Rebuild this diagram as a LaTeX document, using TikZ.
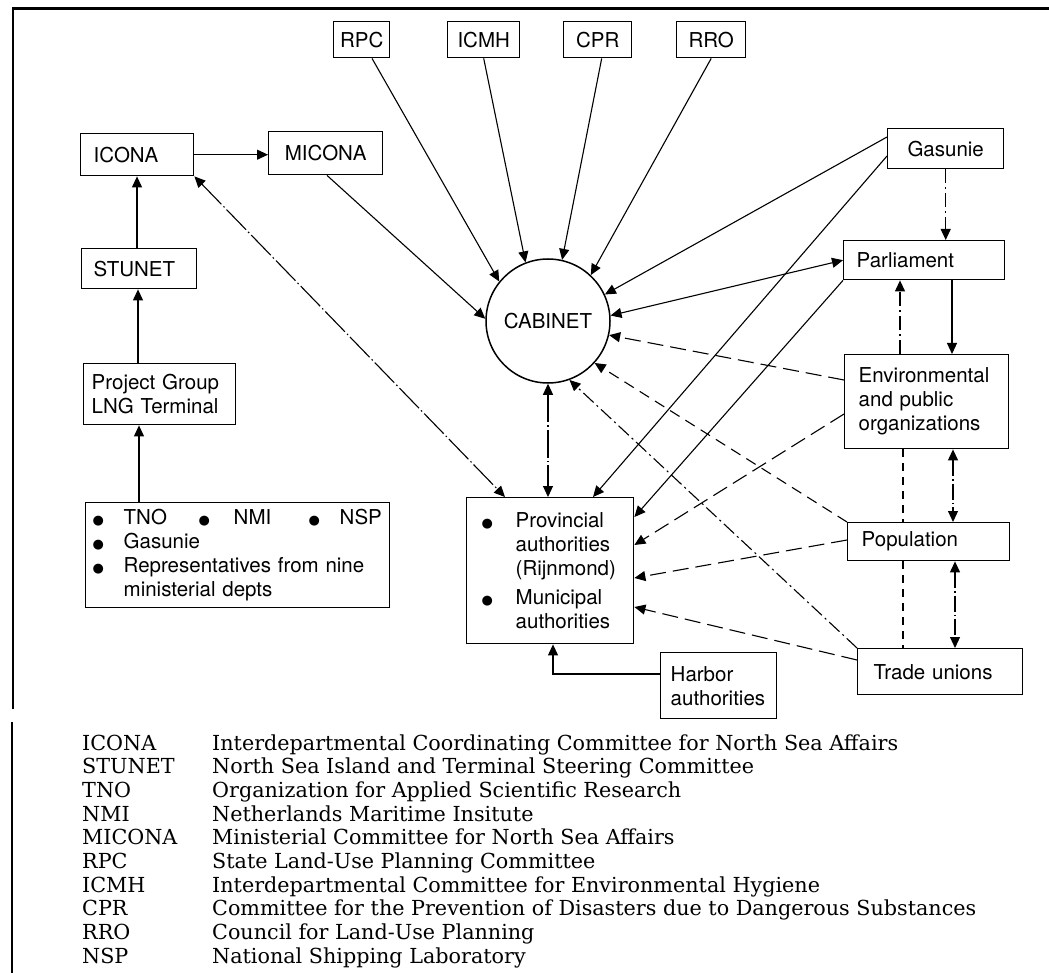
\documentclass[tikz,border=0pt]{standalone}
\usepackage{fontspec}
\setsansfont{TeX Gyre Heros}
\newfontfamily\legfont{DejaVu Serif}
\newfontfamily\bulfont{DejaVu Sans}
\usetikzlibrary{arrows.meta,calc}
\newcommand{\dfont}{\sffamily\fontsize{20.5}{24}\selectfont}
\newcommand{\lfont}{\legfont\fontsize{20.7}{24}\selectfont}
\newcommand{\bul}{{\bulfont\fontsize{13}{13}\selectfont ●}}
\begin{document}
\begin{tikzpicture}[x=1pt,y=-1pt,
  bx/.style={draw, line width=1.4pt, font=\dfont, inner xsep=13pt, inner ysep=0pt, align=left, anchor=north west},
  tbx/.style={bx, align=center, inner xsep=0pt},
  conn/.style={line width=1.1pt},
  arr/.style={-{Triangle[length=11pt,width=10pt]}},
  darr/.style={{Triangle[length=11pt,width=10pt]}-{Triangle[length=11pt,width=10pt]}},
  ldash/.style={dash pattern=on 16pt off 7pt},
  mdash/.style={dash pattern=on 11pt off 7pt},
  sdash/.style={dash pattern=on 8pt off 6pt},
  ddot/.style={dash pattern=on 14pt off 4pt on 2pt off 4pt},
  lddot/.style={dash pattern=on 28pt off 3pt on 1.5pt off 3pt},
  mddot/.style={dash pattern=on 16pt off 3pt on 1.5pt off 3pt},
  lg/.style={font=\lfont, inner sep=0pt, anchor=base west}
]
\useasboundingbox (0,0) rectangle (1049,973);

% frame
\draw[line width=3pt] (12,9) -- (1049,9);
\draw[line width=1.8pt] (13,9) -- (13,709);
\draw[line width=1.8pt] (12,722) -- (12,973);

% top boxes
\node[tbx, text width=56pt, minimum height=36pt] (RPC) at (333,21) {RPC};
\node[tbx, text width=72pt, minimum height=36pt] (ICMH) at (447,21) {ICMH};
\node[tbx, text width=68pt, minimum height=36pt] (CPR) at (563,21) {CPR};
\node[tbx, text width=69pt, minimum height=36pt] (RRO) at (676,21) {RRO};

% left column
\node[bx, text width=87pt, minimum height=42pt] (ICONA) at (80,133) {ICONA};
\node[bx, align=center, inner xsep=13pt, text width=88pt, minimum height=43pt] (MICONA) at (268,131) {MICONA};
\node[bx, inner xsep=12pt, text width=91pt, minimum height=40pt] (STUNET) at (81,248) {STUNET};
\node[bx, inner xsep=8pt, text width=136pt, minimum height=61pt] (PG) at (83,363) {Project Group\\LNG Terminal};
\node[bx, inner xsep=7pt, text width=290pt, minimum height=105pt] (LIST) at (85,502)
 {\makebox[31pt][l]{\bul}\makebox[75pt][l]{TNO}\makebox[35pt][l]{\bul}\makebox[75pt][l]{NMI}\makebox[31pt][l]{\bul}NSP\\
  \makebox[31pt][l]{\bul}Gasunie\\
  \makebox[31pt][l]{\bul}Representatives from nine\\
  \hspace*{31pt}ministerial depts};

% centre
\node[draw, circle, line width=1.5pt, minimum size=124pt, inner sep=0pt, font=\dfont] (CAB) at (548,321) {CABINET};
\node[bx, inner xsep=15pt, text width=137pt, minimum height=146pt] (PROV) at (466,497)
 {\makebox[34pt][l]{\bul}Provincial\\
  \hspace*{34pt}authorities\\
  \hspace*{34pt}(Rijnmond)\\[5pt]
  \makebox[34pt][l]{\bul}Municipal\\
  \hspace*{34pt}authorities};
\node[bx, inner xsep=10pt, text width=96pt, minimum height=66pt] (HARB) at (660,652) {Harbor\\authorities};

% right column
\node[tbx, text width=116pt, minimum height=40pt] (GAS) at (887,128) {Gasunie};
\node[bx, text width=135pt, minimum height=39pt] (PARL) at (843,240) {Parliament};
\node[bx, inner xsep=14pt, text width=136pt, minimum height=94pt] (ENV) at (844,354) {Environmental\\and public\\organizations};
\node[bx, inner xsep=14pt, text width=134pt, minimum height=38pt] (POP) at (847,522) {Population};
\node[bx, inner xsep=16pt, text width=133pt, minimum height=46pt] (TRADE) at (857,648) {Trade unions};

% left chain
\draw[conn,arr] ($(LIST.north west)+(54,0)$) -- ($(PG.south west)+(56,0)$);
\draw[conn,arr] ($(PG.north west)+(55,0)$) -- ($(STUNET.south west)+(57,0)$);
\draw[conn,arr] ($(STUNET.north west)+(56,0)$) -- ($(ICONA.south west)+(57,0)$);
\draw[conn,arr] (ICONA.east) -- (MICONA.west |- ICONA.east);

% into cabinet from top
\draw[conn,arr] ($(RPC.south west)+(39,0)$) -- (CAB.141);
\draw[conn,arr] (ICMH.south) -- (CAB.111);
\draw[conn,arr] ($(CPR.south)+(4,0)$) -- (CAB.77);
\draw[conn,arr] (RRO.south) -- (CAB.47);
\draw[conn,arr] ($(MICONA.south west)+(59,0)$) -- (CAB.178);

% double links to provincial
\draw[conn,lddot,darr] (ICONA.south east) -- ($(PROV.north west)+(39,0)$);
\draw[conn,lddot,darr] (CAB.south) -- (CAB.south |- PROV.north);

% right side to cabinet / provincial
\draw[conn,arr] ($(GAS.north west)+(0,9)$) -- (CAB.25);
\draw[conn,arr] ($(GAS.north west)+(0,28)$) -- ($(PROV.north west)+(127,0)$);
\draw[conn,darr] (CAB.5) -- (PARL.west);
\draw[conn,arr] (PARL.south west) -- ($(PROV.north east)+(0,20)$);
\draw[conn,ldash,arr] ($(ENV.north west)+(0,26)$) -- (CAB.-13);
\draw[conn,ldash,arr] ($(ENV.north west)+(0,60)$) -- ($(PROV.north east)+(0,48)$);
\draw[conn,mdash,arr] (POP.north west) -- (CAB.-42);
\draw[conn,ldash,arr] ($(POP.north west)+(0,18)$) -- ($(PROV.north east)+(0,81)$);
\draw[conn,ddot,arr] (TRADE.north west) -- (CAB.-70);
\draw[conn,ldash,arr] ($(TRADE.north west)+(0,12)$) -- ($(PROV.north east)+(0,110)$);
\draw[conn,arr] ($(HARB.north west)+(0,22)$) -| ($(PROV.south west)+(87,0)$);

% right column verticals
\draw[conn,ddot,arr] (GAS.south) -- (GAS.south |- PARL.north);
\coordinate (e1) at ($(ENV.north west)+(56,0)$);
\draw[conn,ddot,arr] (e1) -- (e1 |- PARL.south);
\coordinate (p1) at ($(PARL.south west)+(109,0)$);
\draw[conn,arr] (p1) -- (p1 |- ENV.north);
\coordinate (e2) at ($(ENV.south west)+(109,0)$);
\draw[conn,mddot,darr] (e2) -- (e2 |- POP.north);
\coordinate (e3) at ($(ENV.south west)+(59,0)$);
\draw[conn,sdash] (e3) -- (e3 |- POP.north);
\draw[conn,sdash] (e3 |- POP.south) -- (e3 |- TRADE.north);
\coordinate (q1) at ($(POP.south west)+(108,0)$);
\draw[conn,mddot,darr] (q1) -- (q1 |- TRADE.north);

% legend
\foreach \a/\d [count=\i from 0] in {
  ICONA/Interdepartmental Coordinating Committee for North Sea Affairs,
  STUNET/North Sea Island and Terminal Steering Committee,
  TNO/Organization for Applied Scientific Research,
  NMI/Netherlands Maritime Insitute,
  MICONA/Ministerial Committee for North Sea Affairs,
  RPC/State Land-Use Planning Committee,
  ICMH/Interdepartmental Committee for Environmental Hygiene,
  CPR/Committee for the Prevention of Disasters due to Dangerous Substances,
  RRO/Council for Land-Use Planning,
  NSP/National Shipping Laboratory} {
  \node[lg] (LA\i) at (82,750+23.7*\i) {\a};
  \node[lg] (LD\i) at (212,750+23.7*\i) {\d};
}
\end{tikzpicture}
\end{document}
